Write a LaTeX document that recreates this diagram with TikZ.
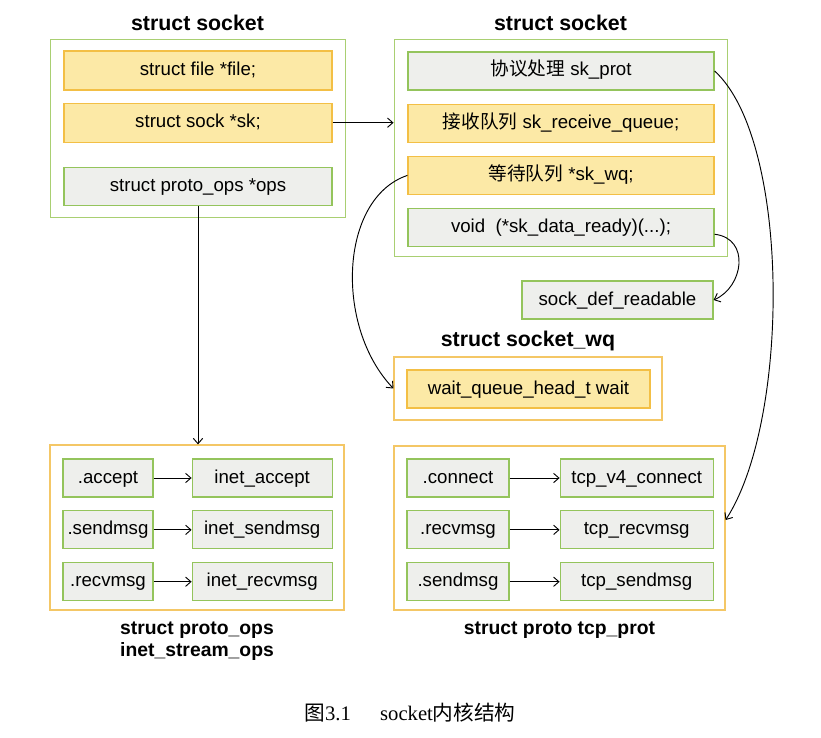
\documentclass[tikz,border=0pt]{standalone}
\usepackage{fontspec}
\setmainfont{Liberation Sans}
\newfontfamily\cjk{Noto Sans CJK SC}
\newfontfamily\capfont{Liberation Serif}
\usepackage{xcolor}
\usepackage{tikz}
\usetikzlibrary{arrows.meta,positioning}

\definecolor{ylw}{HTML}{FCE9A6}
\definecolor{ylwline}{HTML}{F3BF45}
\definecolor{grn}{HTML}{94C45C}
\definecolor{gry}{HTML}{EEEFEC}
\definecolor{outgrn}{HTML}{A9CF72}
\definecolor{outylw}{HTML}{F4C766}

\begin{document}
\begin{tikzpicture}[x=0.75pt, y=-0.75pt]
    % Styles
    \tikzstyle{outgbox} = [rectangle, draw=outgrn, line width=0.7pt, inner sep=0pt]
    \tikzstyle{outybox} = [rectangle, draw=outylw, line width=0.9pt, inner sep=0pt]
    \tikzstyle{yblock} = [rectangle, draw=ylwline, fill=ylw, line width=0.9pt, minimum height=28.5pt, inner sep=0pt, text height=10.5pt, text depth=3pt, font=\fontsize{14}{16}\selectfont]
    \tikzstyle{gblock} = [rectangle, draw=grn, fill=gry, line width=0.9pt, minimum height=28.5pt, inner sep=0pt, text height=10.5pt, text depth=3pt, font=\fontsize{14}{16}\selectfont]
    \tikzstyle{title} = [inner sep=0pt, text depth=0pt, font=\bfseries\fontsize{16}{18}\selectfont]
    \tikzstyle{subtitle} = [inner sep=0pt, align=center, font=\bfseries\fontsize{14.5}{16.5}\selectfont]
    \tikzstyle{arrow} = [line width=0.7pt, -{Straight Barb[length=4pt,width=7pt]}]

    \useasboundingbox (0,0) rectangle (821,738);

    % struct socket (left)
    \node [outgbox, minimum width=221.25pt, minimum height=133.5pt] (socket1) at (197.5,128) {};
    \node [title, above=6pt of socket1] (title1) {struct socket};
    \node [yblock, minimum width=201pt, minimum height=29.25pt] (file1) at (198,70.5) {struct file *file;};
    \node [yblock, minimum width=201pt, minimum height=29.25pt, below=9pt of file1] (sk1) {struct sock *sk;};
    \node [gblock, minimum width=201pt, below=18pt of sk1] (ops1) {struct proto\_ops *ops};

    % struct sock (right)
    \node [outgbox, minimum width=249.75pt, minimum height=162.75pt] (socket2) at (560.5,147.5) {};
    \node [title, above=6pt of socket2] (title2) {struct socket};
    \node [gblock, minimum width=229.5pt] (prot2) at (561,71) {{\cjk 协议处理} sk\_prot};
    \node [yblock, minimum width=229.5pt, below=9.75pt of prot2] (recv2) {{\cjk 接收队列} sk\_receive\_queue;};
    \node [yblock, minimum width=229.5pt, below=9.75pt of recv2] (wq2) {{\cjk 等待队列} *sk\_wq;};
    \node [gblock, minimum width=229.5pt, below=9.75pt of wq2] (ready2) {void\ \ (*sk\_data\_ready)(...);};

    \node [gblock, minimum width=143.25pt] (readable) at (617.5,300) {sock\_def\_readable};

    % struct socket_wq
    \node [outybox, minimum width=201pt, minimum height=47.25pt] (sockwq) at (528,388.5) {};
    \node [title, above=7pt of sockwq] (title3) {struct socket\_wq};
    \node [yblock, minimum width=182.25pt] (wait) at (528.5,389) {wait\_queue\_head\_t wait};

    % struct proto_ops inet_stream_ops
    \node [outybox, minimum width=220.5pt, minimum height=123.75pt] (opsbox) at (197,527.5) {};
    \node [subtitle, below=8pt of opsbox] (title4) {struct proto\_ops\\inet\_stream\_ops};
    \node [gblock, minimum width=67.5pt] (accept) at (108,478) {.accept};
    \node [gblock, minimum width=67.5pt, below=9.5pt of accept] (sendmsg) {.sendmsg};
    \node [gblock, minimum width=67.5pt, below=9.5pt of sendmsg] (recvmsg) {.recvmsg};
    \node [gblock, minimum width=105pt, right=28.5pt of accept] (inetaccept) {inet\_accept};
    \node [gblock, minimum width=105pt, right=28.5pt of sendmsg] (inetsend) {inet\_sendmsg};
    \node [gblock, minimum width=105pt, right=28.5pt of recvmsg] (inetrecv) {inet\_recvmsg};

    % struct proto tcp_prot
    \node [outybox, minimum width=248.25pt, minimum height=123pt] (protbox) at (559.5,528) {};
    \node [subtitle, below=8pt of protbox] (title5) {struct proto tcp\_prot};
    \node [gblock, minimum width=76.5pt] (connect) at (458,478) {.connect};
    \node [gblock, minimum width=76.5pt, below=9.5pt of connect] (recvmsg2) {.recvmsg};
    \node [gblock, minimum width=76.5pt, below=9.5pt of recvmsg2] (sendmsg2) {.sendmsg};
    \node [gblock, minimum width=114.75pt, right=37.5pt of connect] (tcpconnect) {tcp\_v4\_connect};
    \node [gblock, minimum width=114.75pt, right=37.5pt of recvmsg2] (tcprecv) {tcp\_recvmsg};
    \node [gblock, minimum width=114.75pt, right=37.5pt of sendmsg2] (tcpsend) {tcp\_sendmsg};

    % Caption
    \node [font=\capfont\fontsize{15.5}{18}\selectfont] (caption) at (410,713) {{\cjk 图}3.1\hspace{22pt}socket{\cjk 内核结构}};

    % Connections
    \draw[arrow] (sk1.east) -- (sk1.east -| socket2.west);
    \draw[arrow] (ops1.south) -- (ops1.south |- opsbox.north);
    \draw[arrow] (prot2.east) .. controls +(76,69) and +(65,-100) .. ([yshift=6pt]protbox.east);
    \draw[arrow] (wq2.west) .. controls +(-68,23) and +(-59,-62) .. (sockwq.west);
    \draw[arrow] ([yshift=-5pt]ready2.east) .. controls +(36,4) and +(30,-13) .. (readable.east);

    \draw[arrow] (accept.east) -- (inetaccept.west);
    \draw[arrow] (sendmsg.east) -- (inetsend.west);
    \draw[arrow] (recvmsg.east) -- (inetrecv.west);
    \draw[arrow] (connect.east) -- (tcpconnect.west);
    \draw[arrow] (recvmsg2.east) -- (tcprecv.west);
    \draw[arrow] (sendmsg2.east) -- (tcpsend.west);
\end{tikzpicture}
\end{document}
